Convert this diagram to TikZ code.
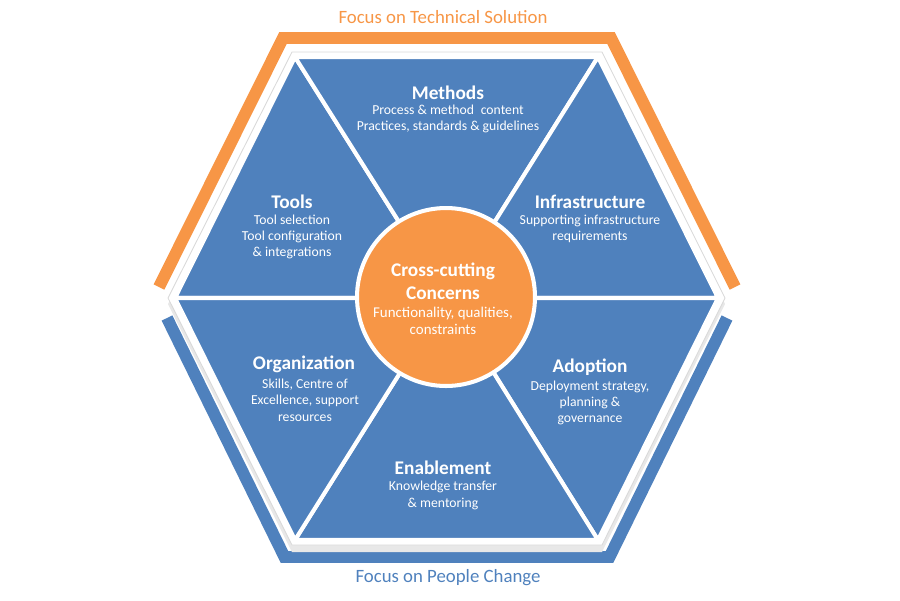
\documentclass[tikz,border=0pt]{standalone}
\usepackage{fontspec}
\setmainfont{Carlito}
\usetikzlibrary{positioning}
\definecolor{hexblue}{HTML}{4F81BD}
\definecolor{hexorange}{HTML}{F79646}

\begin{document}
\begin{tikzpicture}[x=0.02cm, y=-0.02cm,
    sector/.style={fill=hexblue, draw=white, line width=2.3pt},
    secthead/.style={text=white, inner sep=0pt, font=\fontsize{11}{13}\selectfont\bfseries},
    secttext/.style={text=white, inner sep=0pt, align=center, font=\fontsize{7.8}{9.3}\selectfont},
    band/.style={line width=6.8pt},
    focus/.style={inner sep=0pt, font=\fontsize{10.7}{12}\selectfont}
  ]
    \useasboundingbox (0,0) rectangle (900,600);

    % Hexagon corners
    \coordinate (O)  at (447,298);
    \coordinate (L)  at (175,298);
    \coordinate (TL) at (295,57);
    \coordinate (TR) at (598,57);
    \coordinate (R)  at (718,298);
    \coordinate (BR) at (598,540);
    \coordinate (BL) at (295,540);

    % Focus brackets
    \draw[band, hexorange] (159,287) -- (283,38) -- (611,38) -- (735,287);
    \draw[band, hexblue] (167,318) -- (284.5,557) -- (609.5,557) -- (727,318);

    % Frame and shadow
    \fill[gray!18] (168,304) -- (292,58) -- (602,58) -- (725,304) -- (602,552) -- (292,552) -- cycle;
    \filldraw[fill=white, draw=gray!30, line width=0.5pt]
      (168,298) -- (292,52) -- (602,52) -- (725,298) -- (602,545) -- (292,545) -- cycle;

    % Sectors
    \foreach \a/\b in {L/TL, TL/TR, TR/R, R/BR, BR/BL, BL/L}
      \path[sector] (O) -- (\a) -- (\b) -- cycle;

    % Centre
    \node[circle, fill=hexorange, draw=white, line width=2.3pt,
      minimum size=3.56cm, inner sep=0pt] (core) at (446,297) {};

    % Sector texts
    \node[secthead] (methods) at (448,93) {Methods};
    \node[secttext] (methodsT) at (448,119) {Process \& method\enspace content\\Practices, standards \& guidelines};

    \node[secthead] (tools) at (292,202) {Tools};
    \node[secttext] (toolsT) at (292,237) {Tool selection\\Tool configuration\\\& integrations};

    \node[secthead] (infra) at (590,202) {Infrastructure};
    \node[secttext] (infraT) at (590,229) {Supporting infrastructure\\requirements};

    \node[secthead] (org) at (304,364) {Organization};
    \node[secttext] (orgT) at (305,400) {Skills, Centre of\\Excellence, support\\resources};

    \node[secthead] (adopt) at (590,367) {Adoption};
    \node[secttext] (adoptT) at (590,403) {Deployment strategy,\\planning \&\\governance};

    \node[secthead] (enable) at (443,468) {Enablement};
    \node[secttext] (enableT) at (443,495.5) {Knowledge transfer\\\& mentoring};

    \node[secthead, align=center, font=\fontsize{11}{13}\selectfont\bfseries] (coreH) at (443,281.5) {Cross-cutting\\Concerns};
    \node[secttext, font=\fontsize{8.5}{9.6}\selectfont] (coreT) at (443,320.5) {Functionality, qualities,\\constraints};

    % Focus labels
    \node[focus, text=hexorange] (techfocus) at (443,17) {Focus on Technical Solution};
    \node[focus, text=hexblue] (peoplefocus) at (448,578) {Focus on People Change};
\end{tikzpicture}
\end{document}
